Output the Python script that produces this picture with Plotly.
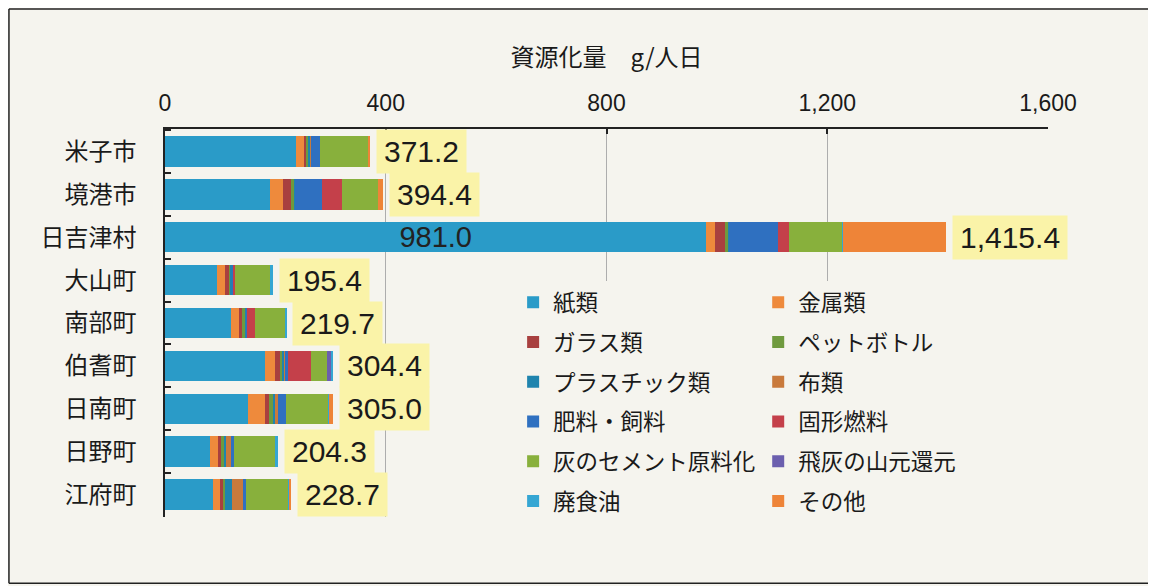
import plotly.graph_objects as go

# ---- data ----
municipalities = ["米子市", "境港市", "日吉津村", "大山町", "南部町", "伯耆町", "日南町", "日野町", "江府町"]
totals = [371.2, 394.4, 1415.4, 195.4, 219.7, 304.4, 305.0, 204.3, 228.7]
total_labels = ["371.2", "394.4", "1,415.4", "195.4", "219.7", "304.4", "305.0", "204.3", "228.7"]

categories = ["紙類", "金属類", "ガラス類", "ペットボトル", "プラスチック類", "布類",
              "肥料・飼料", "固形燃料", "灰のセメント原料化", "飛灰の山元還元", "廃食油", "その他"]

paper    = [238.0, 190.0, 981.0, 95.0, 120.0, 182.0, 151.0, 82.0, 87.0]
metal    = [14.0, 23.0, 15.5, 14.0, 14.0, 18.0, 30.0, 14.0, 13.0]
glass    = [3.5, 15.0, 18.0, 8.0, 6.0, 8.0, 8.0, 5.0, 5.0]
pet      = [3.5, 6.0, 7.0, 2.0, 5.0, 5.0, 6.0, 5.0, 4.0]
plastic  = [5.5, 1.0, 1.0, 3.0, 2.0, 3.0, 5.0, 4.0, 12.0]
cloth    = [0.5, 0.0, 0.0, 0.0, 1.0, 1.0, 4.0, 10.0, 22.0]
fertil   = [16.5, 50.0, 88.0, 3.0, 1.0, 6.0, 16.0, 5.0, 3.0]
rdf      = [0.0, 35.0, 20.0, 1.0, 14.0, 42.0, 0.0, 0.0, 0.0]
ash      = [87.5, 66.0, 98.0, 66.0, 55.0, 28.0, 76.0, 75.0, 78.0]
flyash   = [0.0, 0.0, 0.0, 0.0, 0.0, 8.0, 0.0, 0.0, 0.0]
oil      = [0.5, 0.4, 0.5, 3.4, 1.7, 3.4, 2.0, 4.3, 2.0]
other    = [1.7, 8.0, 186.4, 0.0, 0.0, 0.0, 7.0, 0.0, 2.7]

series = [paper, metal, glass, pet, plastic, cloth, fertil, rdf, ash, flyash, oil, other]
colors = ["#2A9BC8", "#EE8A3C", "#A8403F", "#6F9A3E", "#1F84AE", "#C97A3C",
          "#2F70C0", "#C4404A", "#88B03C", "#6B5FAE", "#35A6D3", "#EE8438"]
legend_col = ["legend", "legend2"] * 6

BG = "#F5F4EE"
FONT = "Liberation Sans, Arial, Noto Sans CJK JP, sans-serif"
JFONT = "Noto Sans CJK JP, sans-serif"

# plot area geometry (figure px); the page adds an 8px body margin
L, T, W, H = 157.0, 121.0, 882.7, 387.7

fig = go.Figure()
for i, (name, vals) in enumerate(zip(categories, series)):
    kw = {}
    if i == 0:
        kw = dict(text=["981.0" if m == "日吉津村" else "" for m in municipalities],
                  textposition="inside", insidetextanchor="middle",
                  insidetextfont=dict(size=29, color="#222", family=FONT),
                  constraintext="none", textangle=0)
    fig.add_trace(go.Bar(
        y=municipalities, x=vals, name=name, orientation="h",
        marker=dict(color=colors[i], line=dict(width=0)),
        legend=legend_col[i], legendgroup=name, hoverinfo="x+name", **kw))

# total labels
def text_w(s, size):
    w = 0
    for ch in s:
        w += 0.278 if ch in ".," else 0.556
    return w * size

for m, t, lab in zip(municipalities, totals, total_labels):
    fig.add_annotation(x=t, y=m, xref="x", yref="y", text=lab, showarrow=False,
                       xanchor="left", yanchor="middle", xshift=6,
                       font=dict(size=30, color="#1a1a1a", family=FONT),
                       bgcolor="#FAF3A8", borderpad=0,
                       width=text_w(lab, 30) + 14, height=43, align="center")

# outer frame (left, top, bottom edges only)
def px_x(p):
    return (p - L) / W

def px_y(p):
    return (T + H - p) / H

frame_line = dict(color="#222", width=1.5)
fig.add_shape(type="line", xref="paper", yref="paper", x0=px_x(1), x1=px_x(1), y0=px_y(575), y1=px_y(1),
              line=frame_line, layer="below")
fig.add_shape(type="line", xref="paper", yref="paper", x0=px_x(1), x1=px_x(1156), y0=px_y(1), y1=px_y(1),
              line=frame_line, layer="below")
fig.add_shape(type="line", xref="paper", yref="paper", x0=px_x(1), x1=px_x(1156), y0=px_y(575), y1=px_y(575),
              line=frame_line, layer="below")

leg_common = dict(xanchor="left", yanchor="top", bgcolor=BG,
                  font=dict(size=22.5, family=JFONT, color="#1a1a1a"),
                  traceorder="grouped", tracegroupgap=7.5, itemwidth=30)

fig.update_layout(
    width=1156, height=586,
    margin=dict(l=L, r=1156 - L - W, t=T, b=586 - T - H),
    paper_bgcolor=BG, plot_bgcolor=BG,
    barmode="stack", bargap=0.29,
    font=dict(family=FONT, color="#1a1a1a"),
    legend=dict(x=px_x(505), y=px_y(273), **leg_common),
    legend2=dict(x=px_x(750), y=px_y(273), **leg_common),
    xaxis=dict(side="top", range=[0, 1600], tickvals=[0, 400, 800, 1200, 1600],
               tickformat=",", tickfont=dict(size=23, family=FONT, color="#1a1a1a"),
               showline=True, linecolor="#222", linewidth=1.5,
               ticks="inside", ticklen=5, tickcolor="#222", tickwidth=1.5,
               ticklabelstandoff=7,
               showgrid=True, gridcolor="#ADADAD", gridwidth=1, zeroline=False,
               title=dict(text="資源化量　g/人日", font=dict(size=24, family=JFONT, color="#1a1a1a"),
                          standoff=17)),
    yaxis=dict(autorange="reversed", showline=True, linecolor="#222", linewidth=1.5,
               ticks="inside", tickson="boundaries", ticklen=6, tickcolor="#222", tickwidth=1.5,
               tickfont=dict(size=24, family=JFONT, color="#1a1a1a"),
               ticklabelstandoff=22, showgrid=False, zeroline=False),
    showlegend=True,
)

fig.write_html("out.html")
